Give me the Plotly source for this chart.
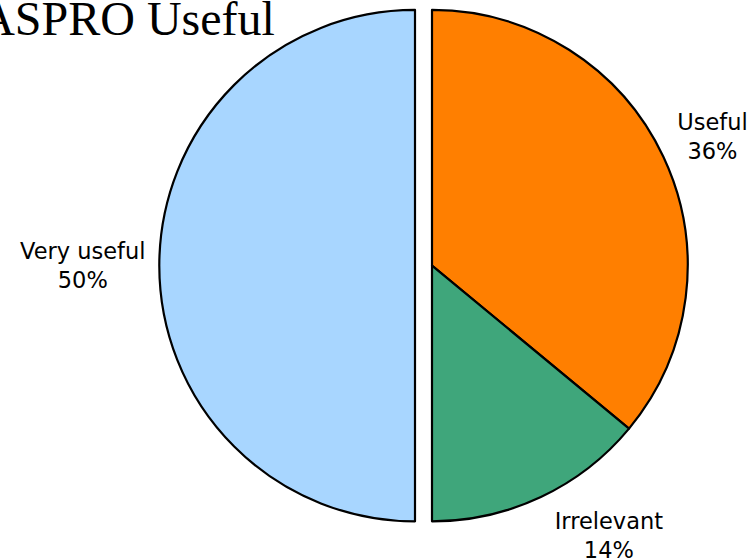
import math
import plotly.graph_objects as go

# Data
categories = ["Useful", "Irrelevant", "Very useful"]
values = [36, 14, 50]
colors = ["#FF7F00", "#3FA67B", "#A8D6FF"]
title_text = "ASPRO Useful"

# The figure is drawn slightly larger than the 749x560 window so that the
# outside labels near the edges do not make plotly shrink the pie; the window
# crops the extra white border.
W, H = 780, 595
R = 257            # pie radius in px
CX, CY = 432, 264  # pie centre in px (from top-left)
GAP = 17           # separation of the "Very useful" slice

def clamp(v):
    return min(1.0, max(0.0, v))

def dom(cx, cy, r):
    return dict(x=[clamp((cx - r) / W), clamp((cx + r) / W)],
                y=[clamp(1 - (cy + r) / H), clamp(1 - (cy - r) / H)])

# mid-angle of each slice (clockwise from 12 o'clock), from the data
total = sum(values)
mid_angles = []
acc = 0
for v in values:
    mid_angles.append(math.radians(360 * (acc + v / 2) / total))
    acc += v

def label_domain(i, r_new, shift_y):
    """Domain of a label-only pie whose label for slice i sits shift_y px
    lower than it would on the main pie."""
    s, c = math.sin(mid_angles[i]), math.cos(mid_angles[i])
    cx = CX + s * (R - r_new)
    cy = CY - c * (R - r_new) + shift_y
    return dom(cx, cy, r_new)

transparent = "rgba(0,0,0,0)"
lab_font = dict(family="DejaVu Sans, Verdana, sans-serif", size=22.5, color="black")
tmpl = "%{label}<br>%{percent}"

def pie(visible_fill, text_idx, domain):
    n = len(values)
    return go.Pie(
        labels=categories, values=values, sort=False, direction="clockwise", rotation=0,
        marker=dict(colors=[colors[k] if k in visible_fill else transparent for k in range(n)],
                    line=dict(color="black",
                              width=[2.2 if k in visible_fill else 0 for k in range(n)])),
        textposition=["outside" if k == text_idx else "none" for k in range(n)],
        texttemplate=tmpl,
        outsidetextfont=lab_font, textfont=lab_font,
        domain=domain, hoverinfo="label+percent", showlegend=False,
    )

fig = go.Figure()
# Useful + Irrelevant slices
fig.add_trace(pie({0, 1}, None, dom(CX, CY, R)))
# pulled-out "Very useful" slice with its label
fig.add_trace(pie({2}, 2, dom(CX - GAP, CY, R)))
# labels of "Useful" and "Irrelevant", placed like the reference
fig.add_trace(pie(set(), 0, label_domain(0, 240, -15)))
fig.add_trace(pie(set(), 1, label_domain(1, R, 16)))

fig.update_layout(
    width=W, height=H,
    margin=dict(l=0, r=0, t=0, b=0),
    paper_bgcolor="white", plot_bgcolor="white",
    title=dict(text=title_text, x=127.5 / W, xanchor="center", xref="container",
               y=1 - (35 - 0.35 * 48) / H, yanchor="middle", yref="container",
               font=dict(family="Liberation Serif, Times New Roman, serif", size=48, color="black")),
    showlegend=False,
)

fig.write_html("out.html", config={"displayModeBar": False},
               post_script="document.body.style.margin='0px';document.body.style.overflow='hidden';")
